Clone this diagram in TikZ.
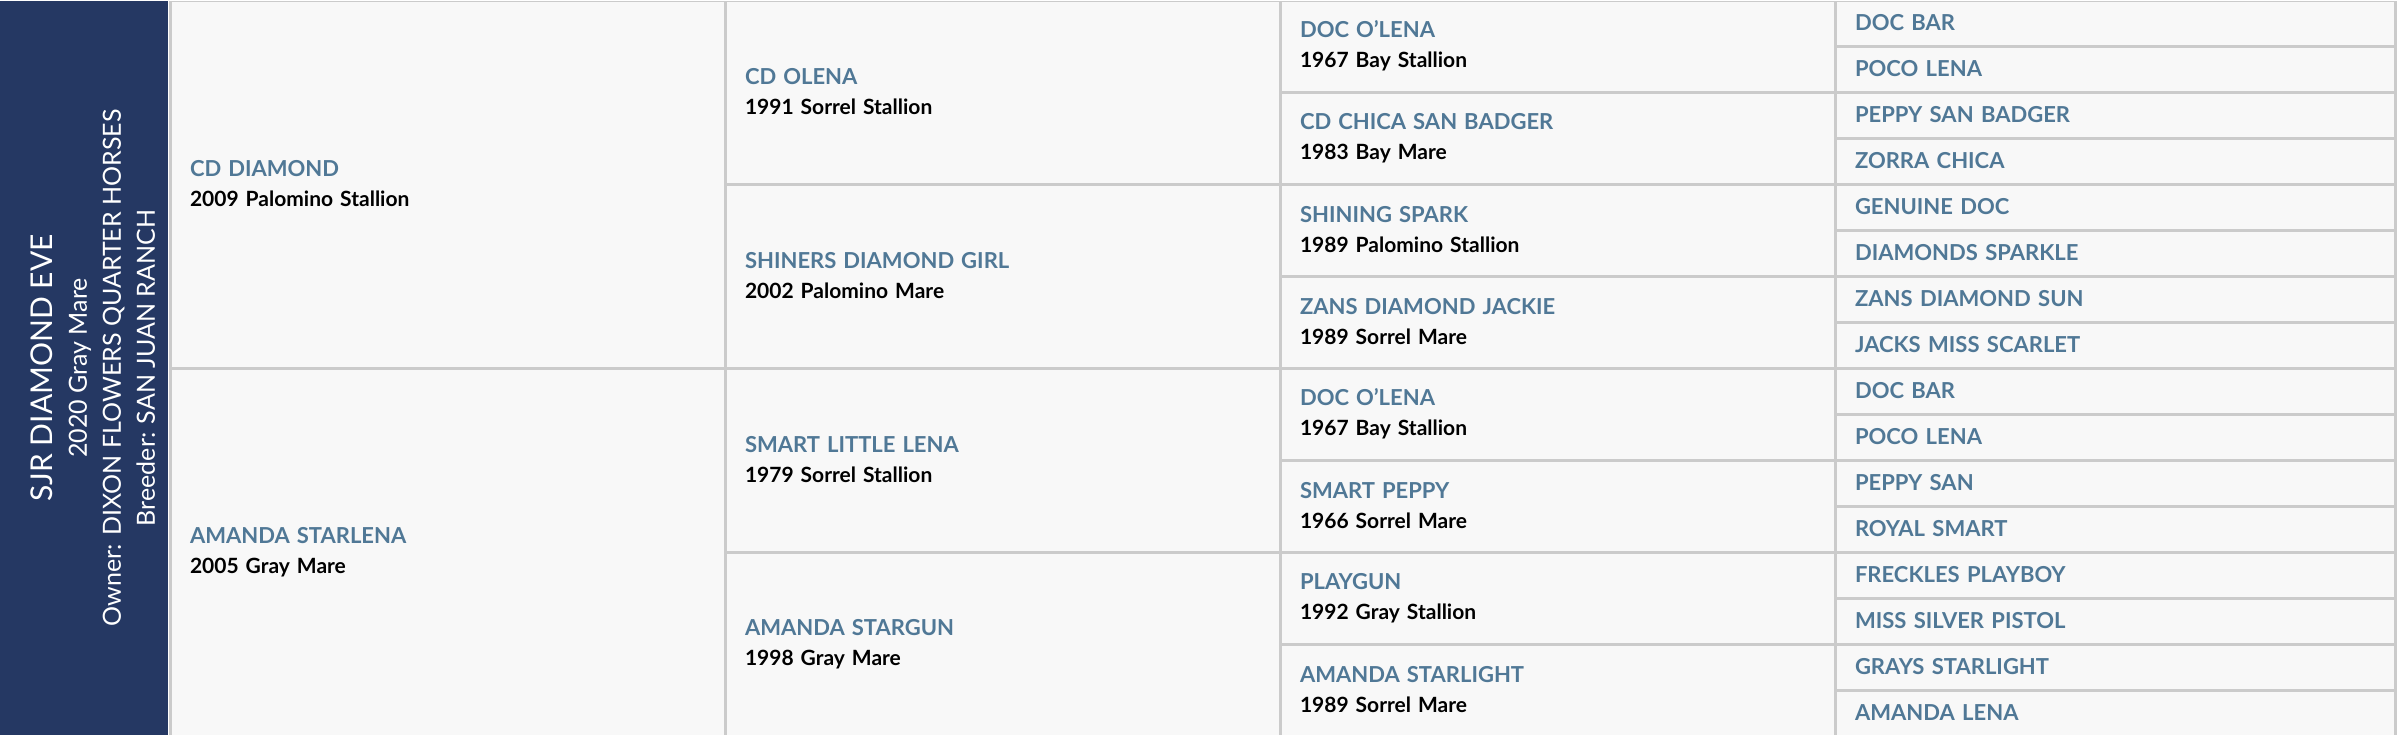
\documentclass[tikz,border=0pt]{standalone}
\usepackage{fontspec}
\setmainfont{Lato}
\usetikzlibrary{positioning}

\definecolor{barblue}{HTML}{253863}
\definecolor{nameblue}{HTML}{507896}
\definecolor{gridgray}{HTML}{CBCBCB}
\definecolor{cellbg}{HTML}{F8F8F8}

\newcommand{\horse}[2]{{\color{nameblue}\fontsize{22}{30}\selectfont #1}\\#2}

\begin{document}
\begin{tikzpicture}[x=1pt,y=-1pt,font=\fontsize{21}{30}\selectfont\bfseries,
	cell/.style={rectangle,draw=gridgray,line width=3pt,fill=cellbg,inner xsep=20pt,
		inner ysep=0pt,outer sep=0pt,align=left,anchor=north west,text width=515pt},
	tailcell/.style={cell,text width=520pt,text=nameblue,font=\fontsize{22}{30}\selectfont\bfseries}]
	\useasboundingbox (0,0) rectangle (2398,736);
	\clip (0,1.6) rectangle (2398,734.4);
	% side bar
	\fill[barblue] (0,0) rectangle (168,736);
	\node[rotate=90,text=white,align=center,font=\fontsize{25}{34}\selectfont] (subject) at (93,368)
		{{\fontsize{30}{34}\selectfont SJR DIAMOND EVE}\\2020 Gray Mare\\
		 Owner: DIXON FLOWERS QUARTER HORSES\\Breeder: SAN JUAN RANCH};
	% parents
	\foreach \N/\S [count=\i] in {CD DIAMOND/2009 Palomino Stallion, AMANDA STARLENA/2005 Gray Mare}
		\node[cell,minimum height=368pt] (g1-\i) at (170,{(\i-1)*368}) {\horse{\N}{\S}};
	% grandparents
	\foreach \N/\S [count=\i] in {CD OLENA/1991 Sorrel Stallion, SHINERS DIAMOND GIRL/2002 Palomino Mare,
		SMART LITTLE LENA/1979 Sorrel Stallion, AMANDA STARGUN/1998 Gray Mare}
		\node[cell,minimum height=184pt] (g2-\i) at (725,{(\i-1)*184}) {\horse{\N}{\S}};
	% great grandparents
	\foreach \N/\S [count=\i] in {DOC O'LENA/1967 Bay Stallion, CD CHICA SAN BADGER/1983 Bay Mare,
		SHINING SPARK/1989 Palomino Stallion, ZANS DIAMOND JACKIE/1989 Sorrel Mare,
		DOC O'LENA/1967 Bay Stallion, SMART PEPPY/1966 Sorrel Mare,
		PLAYGUN/1992 Gray Stallion, AMANDA STARLIGHT/1989 Sorrel Mare}
		\node[cell,minimum height=92pt] (g3-\i) at (1280,{(\i-1)*92}) {\horse{\N}{\S}};
	% last generation
	\foreach \N [count=\i] in {DOC BAR, POCO LENA, PEPPY SAN BADGER, ZORRA CHICA, GENUINE DOC,
		DIAMONDS SPARKLE, ZANS DIAMOND SUN, JACKS MISS SCARLET, DOC BAR, POCO LENA, PEPPY SAN,
		ROYAL SMART, FRECKLES PLAYBOY, MISS SILVER PISTOL, GRAYS STARLIGHT, AMANDA LENA}
		\node[tailcell,minimum height=46pt] (g4-\i) at (1835,{(\i-1)*46}) {\N};
\end{tikzpicture}
\end{document}
